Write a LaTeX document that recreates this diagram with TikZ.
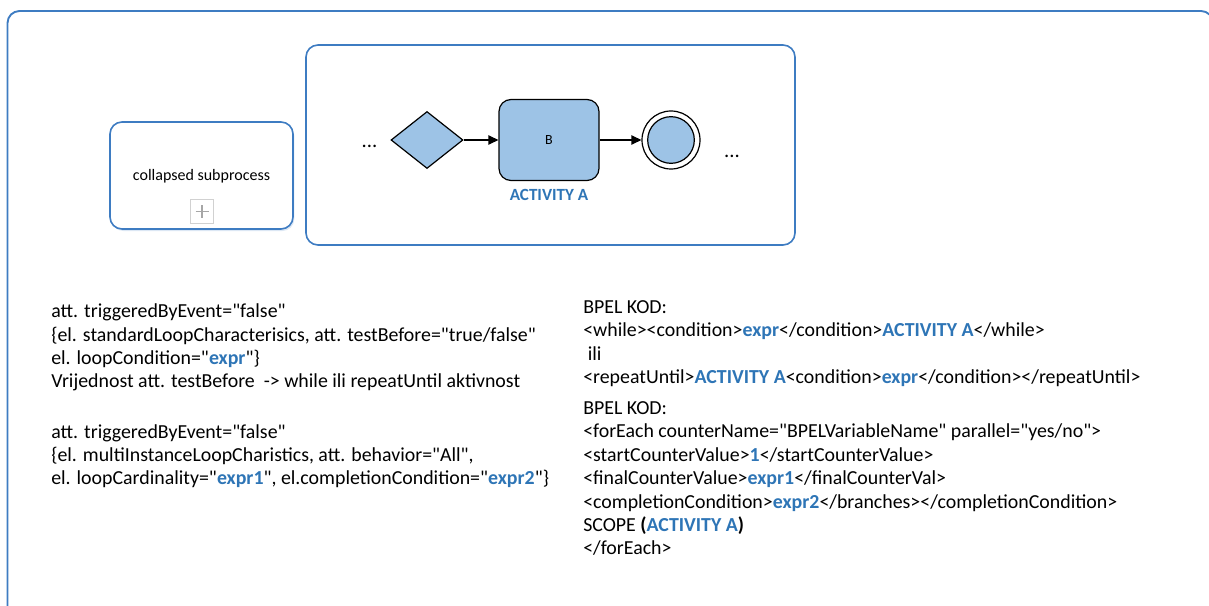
\documentclass[tikz,border=0pt]{standalone}
\usepackage{fontspec}
\setmainfont{Carlito}[Ligatures=TeXOff]
\usetikzlibrary{shapes.geometric,arrows.meta,shadows}
\definecolor{frameblue}{HTML}{3E7CC2}
\definecolor{txtblue}{HTML}{2E75B6}
\definecolor{fillblue}{HTML}{9DC3E6}
\newcommand{\hlb}[1]{\textcolor{txtblue}{\textbf{#1}}}
\tikzset{
  frame/.style={draw=frameblue, line width=1.4pt, rounded corners=9pt},
  subbox/.style={draw=frameblue, line width=1.2pt, rounded corners=9pt, fill=white, inner sep=0pt},
  plusbox/.style={draw=black!18, line width=0.8pt, fill=white, minimum size=17.5pt, inner sep=0pt},
  plusline/.style={draw=black!35, line width=1pt},
  gateway/.style={diamond, draw=black, fill=fillblue, line width=0.9pt, minimum width=54pt, minimum height=42.75pt, inner sep=0pt},
  task/.style={rectangle, rounded corners=9pt, draw=black, fill=fillblue, line width=0.9pt, minimum width=75pt, minimum height=60.75pt, inner sep=0pt, font=\fontsize{10.5pt}{12pt}\selectfont},
  endouter/.style={circle, draw=black, fill=white, line width=0.9pt, minimum size=43.5pt, inner sep=0pt},
  endinner/.style={circle, draw=black, fill=fillblue, line width=0.9pt, minimum size=35pt, inner sep=0pt},
  flow/.style={draw=black, line width=0.9pt, -{Triangle[length=7.5pt,width=7pt]}},
  dots/.style={font=\fontsize{15.5pt}{18pt}\selectfont, inner sep=0pt},
  codetext/.style={align=left, inner sep=0pt, anchor=north west, font=\fontsize{14.9pt}{17.55pt}\selectfont}
}
\begin{document}
\begin{tikzpicture}[x=0.75pt,y=-0.75pt]
\useasboundingbox (0,0) rectangle (1209,606);
\begin{scope}
\clip (0,0) rectangle (1209,606);
\draw[frame] (7.5,11) rectangle (1213,680);
\end{scope}

% collapsed subprocess
\node[subbox, minimum width=137.25pt, minimum height=80.25pt,
      drop shadow={shadow xshift=1pt, shadow yshift=-1.5pt, opacity=0.18, fill=frameblue}] (sub) at (201.5,175.5) {};
\node[inner sep=0pt, font=\fontsize{12pt}{14pt}\selectfont] (subtxt) at (201.5,176) {collapsed subprocess};
\node[plusbox] (plus) at (202,211.5) {};
\draw[plusline] (plus.center) ++(-6.5,0) -- ++(13,0);
\draw[plusline] (plus.center) ++(0,-6.5) -- ++(0,13);

% expanded subprocess
\node[subbox, minimum width=366.75pt, minimum height=150pt] (exp) at (550.5,145) {};
\node[dots, anchor=base] (dotsL) at (369.5,148) {...};
\node[gateway] (gw) at (427,140) {};
\node[task] (taskB) at (549,140) {B};
\node[endouter] (endo) at (671,140) {};
\node[endinner] (endi) at (671,140) {};
\node[dots, anchor=base] (dotsR) at (732,157) {...};
\node[inner sep=0pt, text=txtblue, font=\fontsize{12.8pt}{14pt}\selectfont\bfseries] (actA) at (549,195.3) {ACTIVITY A};
\draw[flow] (gw.east) -- (taskB.west);
\draw[flow] (taskB.east) -- (endo.west);

% text blocks
\node[codetext] (left1) at (51,301) {\strut att. triggeredByEvent="false"\\
\{el. standardLoopCharacterisics, att. testBefore="true/false"\\
el. loopCondition="\hlb{expr}"\}\\
Vrijednost att. testBefore\ \ -> while ili repeatUntil aktivnost};

\node[codetext] (left2) at (51,421.5) {\strut att. triggeredByEvent="false"\\
\{el. multiInstanceLoopCharistics, att. behavior="All",\\
el. loopCardinality="\hlb{expr1}", el.completionCondition="\hlb{expr2}"\}};

\node[codetext] (right1) at (583,296.6) {\strut BPEL KOD:\\
<while><condition>\hlb{expr}</condition>\hlb{ACTIVITY A}</while>\\
\mbox{}\ ili\\
<repeatUntil>\hlb{ACTIVITY A}<condition>\hlb{expr}</condition></repeatUntil>};

\node[codetext] (right2) at (583,397.9) {\strut BPEL KOD:\\
<forEach counterName="BPELVariableName" parallel="yes/no">\\
<startCounterValue>\hlb{1}</startCounterValue>\\
<finalCounterValue>\hlb{expr1}</finalCounterVal>\\
<completionCondition>\hlb{expr2}</branches></completionCondition>\\
SCOPE \textbf{(}\hlb{ACTIVITY A}\textbf{)}\\
</forEach>};
\end{tikzpicture}
\end{document}
